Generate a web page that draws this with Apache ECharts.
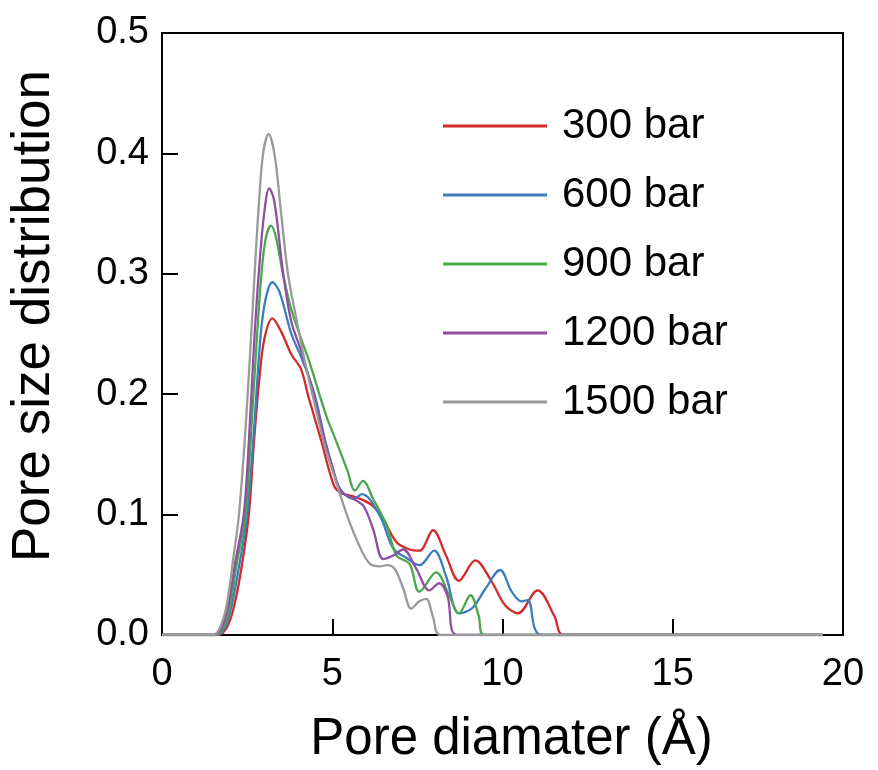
<!DOCTYPE html>
<html>
<head>
<meta charset="utf-8">
<script src="https://cdn.jsdelivr.net/npm/echarts@6/dist/echarts.min.js"></script>
<style>html,body{margin:0;padding:0;background:#fff}#c{width:878px;height:770px}</style>
</head>
<body>
<div id="c"></div>
<script>
var seriesNames = ['300 bar', '600 bar', '900 bar', '1200 bar', '1500 bar'];
var xTicks = [0, 5, 10, 15, 20];
var yTicks = [0.0, 0.1, 0.2, 0.3, 0.4, 0.5];

var p300 = [[0,0],[1.65,0],[1.9,0.006],[2.1,0.022],[2.3,0.05],[2.55,0.1],[2.7,0.16],[2.85,0.21],[3.0,0.245],[3.24,0.263],[3.5,0.252],[3.8,0.233],[4.08,0.221],[4.3,0.198],[4.67,0.162],[5.05,0.124],[5.24,0.118],[5.5,0.116],[5.83,0.113],[6.2,0.107],[6.5,0.096],[6.89,0.077],[7.27,0.071],[7.56,0.070],[7.96,0.087],[8.34,0.066],[8.72,0.045],[9.2,0.062],[9.69,0.044],[10.07,0.025],[10.45,0.018],[11.03,0.037],[11.52,0.016],[11.8,0],[19.4,0]];
var p600 = [[0,0],[1.6,0],[1.85,0.006],[2.05,0.025],[2.25,0.055],[2.5,0.1],[2.7,0.17],[2.9,0.25],[3.05,0.28],[3.24,0.293],[3.45,0.285],[3.8,0.25],[4.1,0.23],[4.48,0.2],[4.8,0.16],[5.0,0.14],[5.24,0.121],[5.63,0.113],[5.87,0.117],[6.4,0.099],[6.79,0.072],[7.18,0.064],[7.56,0.058],[7.99,0.070],[8.34,0.049],[8.72,0.018],[9.1,0.022],[9.49,0.038],[9.93,0.054],[10.27,0.036],[10.56,0.028],[10.74,0.029],[11.15,0],[19.4,0]];
var p900 = [[0,0],[1.55,0],[1.8,0.006],[2.0,0.025],[2.2,0.06],[2.45,0.1],[2.6,0.16],[2.75,0.23],[2.92,0.3],[3.05,0.33],[3.2,0.34],[3.35,0.33],[3.55,0.30],[3.8,0.27],[4.1,0.245],[4.35,0.225],[4.62,0.2],[4.85,0.18],[5.06,0.165],[5.44,0.137],[5.67,0.12],[5.9,0.128],[6.2,0.113],[6.6,0.091],[6.89,0.066],[7.27,0.059],[7.56,0.036],[8.05,0.052],[8.43,0.033],[8.72,0.018],[9.06,0.033],[9.3,0.016],[9.45,0],[19.4,0]];
var p1200 = [[0,0],[1.5,0],[1.75,0.006],[1.95,0.025],[2.15,0.06],[2.4,0.1],[2.55,0.16],[2.7,0.24],[2.84,0.3],[3.0,0.35],[3.15,0.371],[3.3,0.36],[3.56,0.30],[3.8,0.26],[4.1,0.235],[4.45,0.2],[4.8,0.16],[5.0,0.14],[5.24,0.12],[5.63,0.113],[5.92,0.107],[6.2,0.088],[6.5,0.063],[6.79,0.066],[7.08,0.071],[7.47,0.055],[7.85,0.037],[8.14,0.043],[8.38,0.033],[8.67,0],[19.4,0]];
var p1500 = [[0,0],[1.5,0],[1.7,0.006],[1.9,0.025],[2.1,0.065],[2.26,0.1],[2.45,0.17],[2.6,0.24],[2.72,0.3],[2.85,0.36],[2.97,0.40],[3.13,0.416],[3.3,0.40],[3.5,0.35],[3.7,0.30],[4.0,0.255],[4.25,0.22],[4.5,0.19],[4.8,0.155],[5.06,0.132],[5.44,0.099],[5.83,0.072],[6.11,0.059],[6.4,0.057],[6.6,0.058],[6.83,0.055],[7.08,0.039],[7.32,0.022],[7.56,0.028],[7.76,0.03],[7.95,0.016],[8.19,0],[19.4,0]];

var colors = ['#d42a2a', '#3a7ebf', '#4aa84a', '#8e4fa3', '#9a9a9a'];
var allData = [p300, p600, p900, p1200, p1500];

var FONT = 'Liberation Sans, Arial, sans-serif';
var chart = echarts.init(document.getElementById('c'), null, {renderer: 'canvas'});
var series = seriesNames.map(function (n, i) {
  return {
    name: n, type: 'line', data: allData[i], smooth: 0.35, symbol: 'none',
    lineStyle: {color: colors[i], width: 2.3}, itemStyle: {color: colors[i]}, z: 2 + i
  };
});
chart.setOption({
  animation: false,
  backgroundColor: '#fff',
  grid: {left: 152, right: 35, top: 33, bottom: 130, show: true, borderColor: '#000', borderWidth: 2, backgroundColor: 'transparent'},
  legend: {
    orient: 'vertical', left: 438, top: 100,
    itemWidth: 104, itemHeight: 3, itemGap: 27, icon: 'rect',
    textStyle: {fontFamily: FONT, fontSize: 42, color: '#000', lineHeight: 36, padding: [0, 0, 0, 10]},
    data: seriesNames
  },
  xAxis: {
    type: 'value', min: xTicks[0], max: xTicks[xTicks.length - 1], interval: 5,
    name: 'Pore diamater (Å)', nameLocation: 'middle', nameGap: 79,
    nameTextStyle: {fontFamily: FONT, fontSize: 51, color: '#000', padding: [0, 0, 0, 18]},
    axisLine: {show: true, lineStyle: {color: '#000', width: 2}},
    axisTick: {show: true, inside: true, length: 16, lineStyle: {color: '#000', width: 2}},
    axisLabel: {fontFamily: FONT, fontSize: 38, color: '#000', margin: 21},
    splitLine: {show: false}
  },
  yAxis: {
    type: 'value', min: yTicks[0], max: yTicks[yTicks.length - 1], interval: 0.1,
    name: 'Pore size distribution', nameLocation: 'middle', nameGap: 101,
    nameTextStyle: {fontFamily: FONT, fontSize: 53, color: '#000', padding: [0, 0, 0, 36]},
    axisLine: {show: true, lineStyle: {color: '#000', width: 2}},
    axisTick: {show: true, inside: true, length: 16, lineStyle: {color: '#000', width: 2}},
    axisLabel: {fontFamily: FONT, fontSize: 38, color: '#000', margin: 13, formatter: function (v) { return v.toFixed(1); }},
    splitLine: {show: false}
  },
  series: series
});
</script>
</body>
</html>
